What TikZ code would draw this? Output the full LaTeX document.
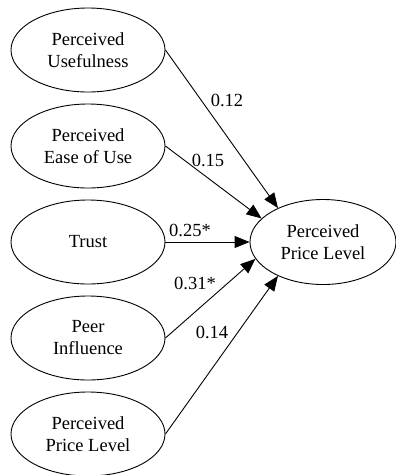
\documentclass[tikz,border=0pt]{standalone}
\usepackage{fontspec}
\setmainfont{Liberation Serif}
\usetikzlibrary{shapes.geometric,arrows.meta}
\begin{document}
\begin{tikzpicture}[x=1pt,y=-1pt,
  construct/.style={ellipse,draw,line width=0.9pt,minimum width=154pt,minimum height=84pt,inner sep=0pt,align=center,font=\fontsize{18.5}{22}\selectfont},
  path/.style={line width=0.9pt,-{Triangle[length=15pt,width=12pt]}},
  coef/.style={font=\fontsize{18.5}{22}\selectfont,inner sep=1pt}]
\useasboundingbox (0,0) rectangle (396,475);
\node[construct] (pu) at (88,50) {Perceived\\Usefulness};
\node[construct] (peou) at (88,146) {Perceived\\Ease of Use};
\node[construct] (tr) at (88,242) {Trust};
\node[construct] (pi) at (88,338) {Peer\\Influence};
\node[construct] (ppl) at (88,434) {Perceived\\Price Level};
\node[construct,minimum width=146pt,minimum height=85pt] (out) at (323,242) {Perceived\\Price Level};
\draw[path] (pu.east) -- (out.143);
\draw[path] (peou.east) -- (out.159);
\draw[path] (tr.east) -- (out.west);
\draw[path] (pi.east) -- (out.194);
\draw[path] (ppl.east) -- (out.217);
\node[coef] (c1) at (227,100) {0.12};
\node[coef] (c2) at (208,160) {0.15};
\node[coef] (c3) at (190,230) {0.25*};
\node[coef] (c4) at (195,283) {0.31*};
\node[coef] (c5) at (212,332) {0.14};
\end{tikzpicture}
\end{document}
